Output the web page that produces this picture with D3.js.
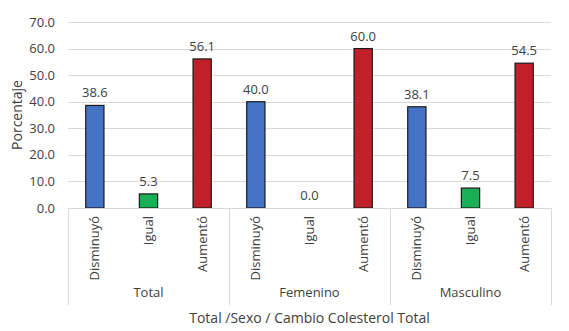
<!DOCTYPE html>
<html>
<head>
<meta charset="utf-8">
<script src="https://cdn.jsdelivr.net/npm/d3@7"></script>
<style>
  body { margin: 0; background: #fff; }
  text { font-family: "Open Sans", "Noto Sans", sans-serif; fill: #404040; }
</style>
</head>
<body>
<div id="plot_area"></div>
<script>
// chart size
const w = 569;
const h = 331;
const margin = { top: 22, right: 18, bottom: 123, left: 68 };

// data
const groups = ['Total', 'Femenino', 'Masculino'];
const changes = ['Disminuyó', 'Igual', 'Aumentó'];
const values = [
  [38.6, 5.3, 56.1],
  [40.0, 0.0, 60.0],
  [38.1, 7.5, 54.5]
];
const yTicks = [0, 10, 20, 30, 40, 50, 60, 70];
const colors = ['#4472C4', '#1AAF54', '#C0202A'];

const rows = [];
groups.forEach((g, i) => {
  changes.forEach((c, j) => {
    rows.push({ key: g + '|' + c, group: g, change: c, idx: j, value: values[i][j] });
  });
});

const svg = d3.select('#plot_area')
  .append('svg')
  .attr('width', w)
  .attr('height', h);

const xScale = d3.scaleBand()
  .domain(rows.map(d => d.key))
  .range([margin.left, w - margin.right])
  .paddingInner(0.66)
  .paddingOuter(0.33);

const yScale = d3.scaleLinear()
  .domain([0, 70])
  .range([h - margin.bottom - 0.5 + 0.5 - 0, margin.top]);

const y0 = yScale(0);

// gridlines
svg.append('g')
  .selectAll('line')
  .data(yTicks)
  .join('line')
  .attr('x1', margin.left)
  .attr('x2', w - margin.right)
  .attr('y1', d => Math.round(yScale(d)) + 0.5)
  .attr('y2', d => Math.round(yScale(d)) + 0.5)
  .attr('stroke', '#d9d9d9')
  .attr('stroke-width', 1);

// y labels
svg.append('g')
  .selectAll('text')
  .data(yTicks)
  .join('text')
  .attr('x', 55)
  .attr('y', d => yScale(d))
  .attr('dy', '0.35em')
  .attr('text-anchor', 'end')
  .style('font-size', '13px')
  .text(d => d.toFixed(1));

// y axis title
svg.append('text')
  .attr('transform', 'translate(22,' + ((margin.top + y0) / 2) + ') rotate(-90)')
  .attr('text-anchor', 'middle')
  .style('font-size', '14px')
  .text('Porcentaje');

// bars
svg.append('g')
  .selectAll('rect')
  .data(rows.filter(d => d.value > 0))
  .join('rect')
  .attr('x', d => xScale(d.key))
  .attr('y', d => yScale(d.value))
  .attr('width', xScale.bandwidth())
  .attr('height', d => y0 - yScale(d.value))
  .attr('fill', d => colors[d.idx])
  .attr('stroke', '#1a1a1a')
  .attr('stroke-width', 1.2);

// value labels
svg.append('g')
  .selectAll('text')
  .data(rows)
  .join('text')
  .attr('x', d => xScale(d.key) + xScale.bandwidth() / 2)
  .attr('y', d => yScale(d.value) - 8)
  .attr('text-anchor', 'middle')
  .style('font-size', '13px')
  .text(d => d.value.toFixed(1));

// x axis line
svg.append('line')
  .attr('x1', margin.left)
  .attr('x2', w - margin.right)
  .attr('y1', Math.round(y0) + 0.5)
  .attr('y2', Math.round(y0) + 0.5)
  .attr('stroke', '#d9d9d9');

// group separators
const step = xScale.step();
const groupEdges = d3.range(groups.length + 1).map(i => margin.left + i * 3 * (w - margin.left - margin.right) / 9);
svg.append('g')
  .selectAll('line')
  .data(groupEdges)
  .join('line')
  .attr('x1', d => Math.round(d) + 0.5)
  .attr('x2', d => Math.round(d) + 0.5)
  .attr('y1', y0)
  .attr('y2', 305)
  .attr('stroke', '#d9d9d9');

// category labels (rotated)
svg.append('g')
  .selectAll('text')
  .data(rows)
  .join('text')
  .attr('transform', d => 'translate(' + (xScale(d.key) + xScale.bandwidth() / 2) + ',' + (y0 + 8) + ') rotate(-90)')
  .attr('text-anchor', 'end')
  .attr('dy', '0.35em')
  .style('font-size', '13px')
  .text(d => d.change);

// group labels
svg.append('g')
  .selectAll('text')
  .data(groups)
  .join('text')
  .attr('x', (d, i) => (groupEdges[i] + groupEdges[i + 1]) / 2)
  .attr('y', 297)
  .attr('text-anchor', 'middle')
  .style('font-size', '13px')
  .text(d => d);

// x axis title
svg.append('text')
  .attr('x', (margin.left + w - margin.right) / 2)
  .attr('y', 323)
  .attr('text-anchor', 'middle')
  .style('font-size', '14px')
  .text('Total /Sexo / Cambio Colesterol Total');
</script>
</body>
</html>
